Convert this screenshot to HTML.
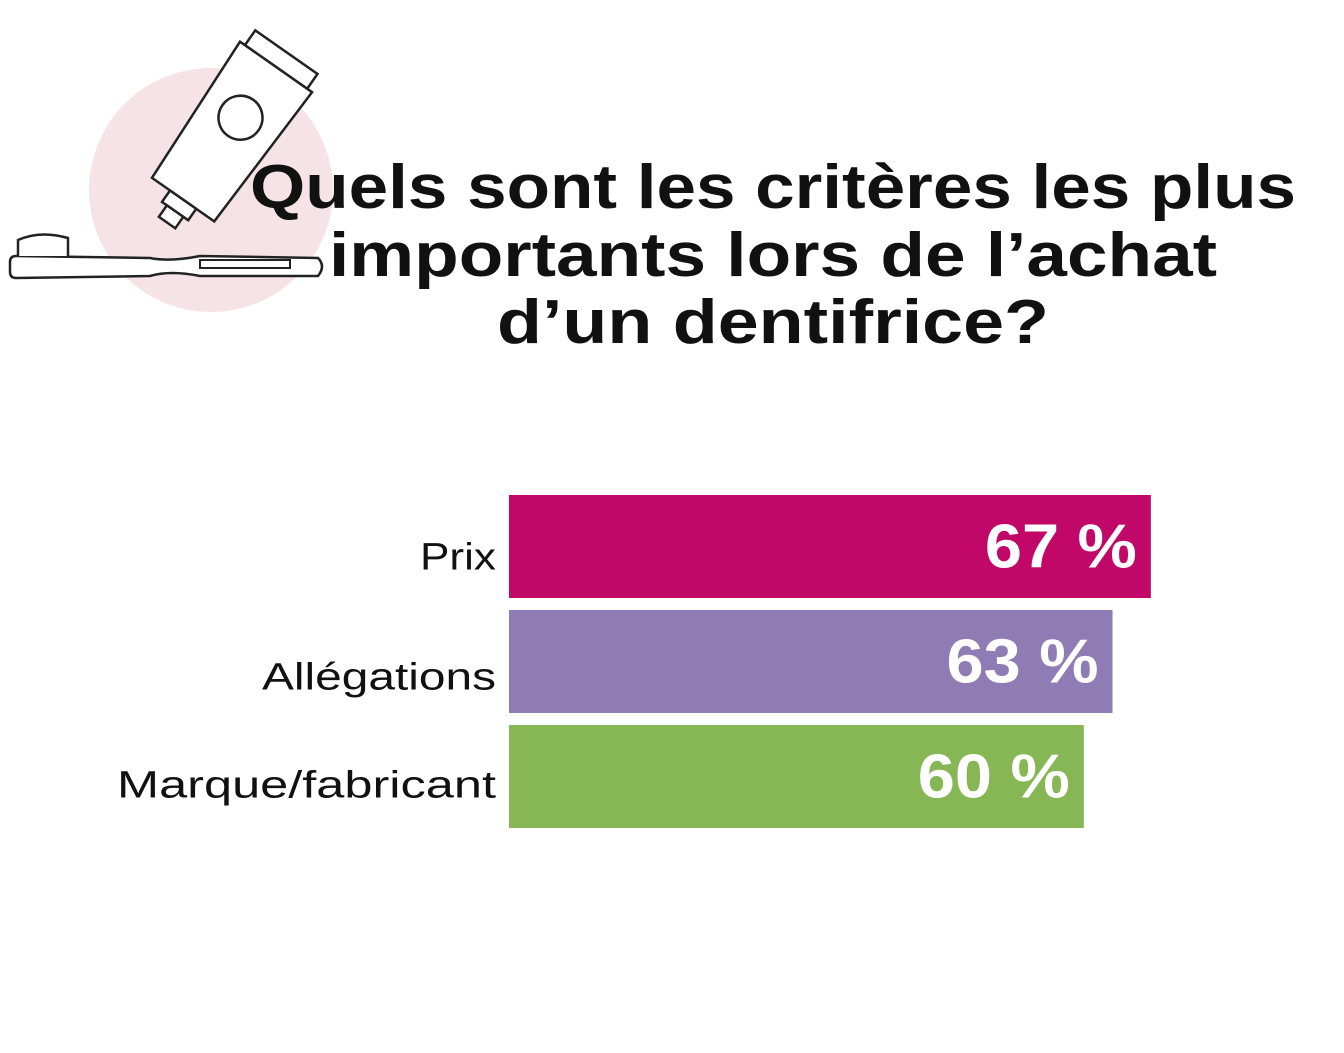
<!DOCTYPE html>
<html><head><meta charset="utf-8"><style>
body{margin:0;background:#fff;width:1344px;height:1048px;overflow:hidden;font-family:"Liberation Sans",sans-serif}
</style></head><body>
<svg width="1344" height="1048" xmlns="http://www.w3.org/2000/svg">
<g>
<circle cx="211" cy="190" r="122" fill="#f6e3e8"/>
<g transform="rotate(35 220 140)" fill="#fff" stroke="#222" stroke-width="2.5">
<rect x="186" y="30" width="76" height="18"/>
<path d="M180 48 L268 48 L262 210 L186 210 Z"/>
<rect x="208" y="210" width="32" height="14"/>
<rect x="214" y="224" width="20" height="14"/>
<circle cx="224" cy="110" r="22"/>
</g>
<path d="M10 262 Q10 256 16 256 L150 258 Q170 262 200 256 L318 258 Q326 266 318 276 L200 276 Q170 270 150 276 L16 278 Q10 278 10 272 Z" fill="#fff" stroke="#222" stroke-width="2.5"/>
<path d="M18 256 L18 240 Q40 230 68 238 L68 256" fill="#fff" stroke="#222" stroke-width="2.5"/>
<rect x="200" y="260" width="90" height="8" fill="none" stroke="#222" stroke-width="2"/>
</g>
<g font-weight="bold" font-size="62" fill="#111" text-anchor="middle">
<text x="773" y="208" textLength="1046" lengthAdjust="spacingAndGlyphs">Quels sont les critères les plus</text>
<text x="773" y="276" textLength="888" lengthAdjust="spacingAndGlyphs">importants lors de l’achat</text>
<text x="773" y="343" textLength="552" lengthAdjust="spacingAndGlyphs">d’un dentifrice?</text>
</g>
<g id="bars"></g>
</svg>
<script>
const categories=["Prix","Allégations","Marque/fabricant"];
const values=[67,63,60];
const valueLabels=["67 %","63 %","60 %"];
const colors=["#c10768","#907cb5","#87b755"];
const x0=509, pxPer=9.58, y0=495, bh=103, gap=12;
const labelLens=[76,234,379];
const labelDy=[23,28,21];
const xs=v=>x0+v*pxPer;
const g=document.getElementById('bars');
const NS="http://www.w3.org/2000/svg";
categories.forEach((c,i)=>{
 const y=y0+i*(bh+gap);
 const r=document.createElementNS(NS,'rect');
 
 
 r.setAttribute('x',x0);r.setAttribute('y',y);r.setAttribute('width',xs(values[i])-x0);r.setAttribute('height',bh);r.setAttribute('fill',colors[i]);
 g.appendChild(r);
 const t=document.createElementNS(NS,'text');
 
 
 t.setAttribute('x',496);t.setAttribute('y',y+bh/2+labelDy[i]);t.setAttribute('text-anchor','end');t.setAttribute('font-size','38');t.setAttribute('fill','#111');
 t.setAttribute('textLength',labelLens[i]);t.setAttribute('lengthAdjust','spacingAndGlyphs');
 t.textContent=c;g.appendChild(t);
 const v=document.createElementNS(NS,'text');
 
 
 v.setAttribute('x',xs(values[i])-14);v.setAttribute('y',y+bh/2+21);v.setAttribute('text-anchor','end');v.setAttribute('font-size','62');v.setAttribute('font-weight','bold');v.setAttribute('fill','#fff');
 v.setAttribute('textLength',152);v.setAttribute('lengthAdjust','spacingAndGlyphs');
 v.textContent=valueLabels[i];g.appendChild(v);
});
</script>
</body></html>
